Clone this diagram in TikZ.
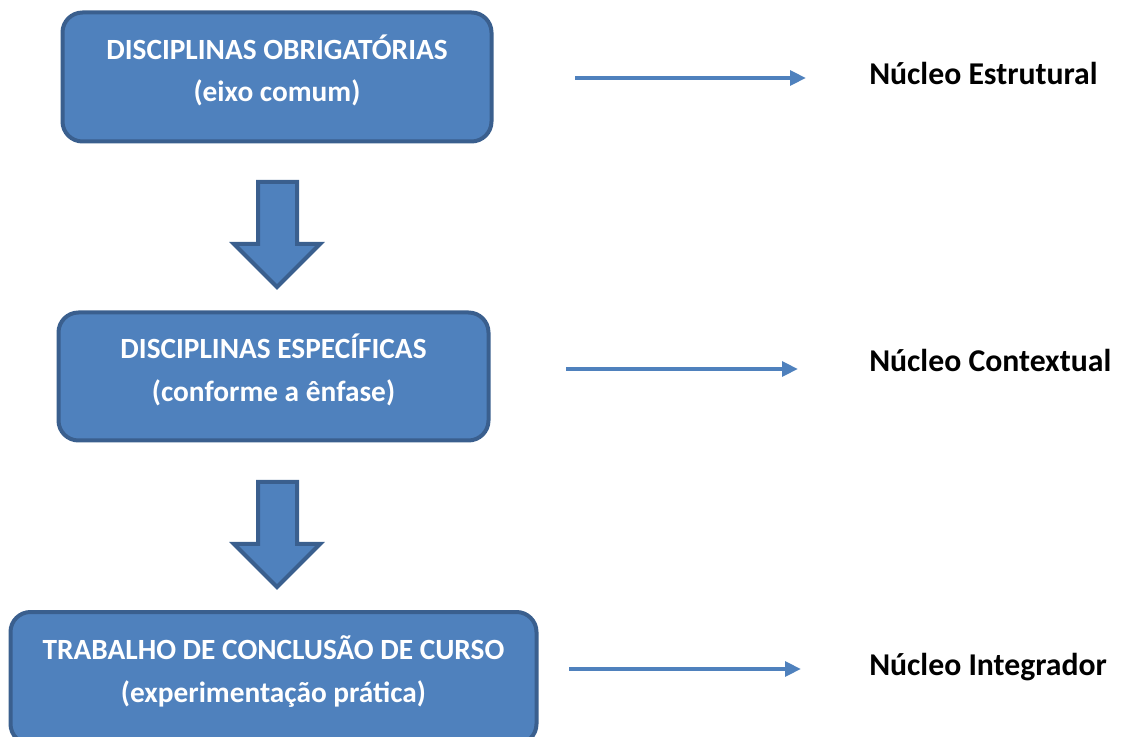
\documentclass[tikz,border=0pt]{standalone}
\usepackage{fontspec}
\setmainfont{Carlito}
\usepackage{tikz}
\usetikzlibrary{arrows.meta}
\usetikzlibrary{positioning}

\definecolor{boxfill}{HTML}{4F81BD}
\definecolor{boxline}{HTML}{3A5F8E}

\tikzset{
  stage/.style={draw=boxline, line width=3pt, fill=boxfill, rounded corners=15pt,
    text=white, font=\bfseries\fontsize{22}{32}\selectfont, align=center,
    inner sep=0pt, text depth=13pt},
  nucleus/.style={font=\bfseries\fontsize{23.8}{26}\selectfont, anchor=west, inner sep=0pt},
  thinarrow/.style={draw=boxfill, line width=3pt, -{Triangle[length=12pt,width=11pt]}},
  blockarrow/.style={draw=boxline, line width=3pt, fill=boxfill, line join=miter}
}

\begin{document}
\begin{tikzpicture}[x=0.75pt, y=-0.75pt]
\useasboundingbox (0,0) rectangle (1121,737);

% boxes on the left
\node[stage, minimum width=429*0.75pt, minimum height=129*0.75pt] (Obrig) at (277,77)
  {DISCIPLINAS OBRIGAT\'ORIAS\\(eixo comum)};
\node[stage, minimum width=430*0.75pt, minimum height=128*0.75pt] (Espec) at (273.5,376.5)
  {DISCIPLINAS ESPEC\'IFICAS\\(conforme a \^enfase)};
\node[stage, minimum width=526*0.75pt, minimum height=132*0.75pt] (TCC) at (273.5,678)
  {TRABALHO DE CONCLUS\~AO DE CURSO\\(experimenta\c{c}\~ao pr\'atica)};

% labels on the right
\node[nucleus] (Estrut) at (869,73) {Núcleo Estrutural};
\node[nucleus] (Context) at (869,360) {Núcleo Contextual};
\node[nucleus] (Integr) at (869,667) {Núcleo Integrador};

% thin arrows
\coordinate (a1) at (575,78);  \coordinate (b1) at (806,78);
\coordinate (a2) at (566,369); \coordinate (b2) at (798,369);
\coordinate (a3) at (569,669); \coordinate (b3) at (801,669);
\draw[thinarrow] (a1) -- (b1);
\draw[thinarrow] (a2) -- (b2);
\draw[thinarrow] (a3) -- (b3);

% block arrows between the boxes
\foreach \y in {0,300}{
  \draw[blockarrow] (258,182+\y) -- (297,182+\y) -- (297,244+\y) -- (320,244+\y)
    -- (277,287+\y) -- (234,244+\y) -- (258,244+\y) -- cycle;
}
\end{tikzpicture}
\end{document}
